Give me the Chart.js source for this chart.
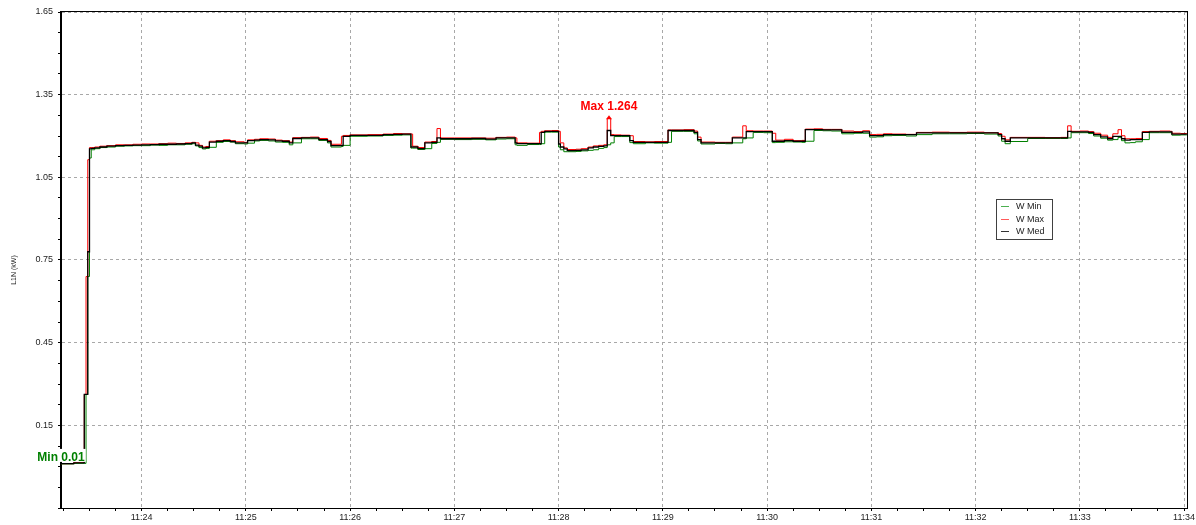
<!DOCTYPE html>
<html>
<head>
<meta charset="utf-8">
<script src="https://cdn.jsdelivr.net/npm/chart.js@4.4.1/dist/chart.umd.min.js"></script>
<style>
  html, body { margin: 0; padding: 0; background: #ffffff; }
  canvas { display: block; }
</style>
</head>
<body>
<canvas id="chart" width="1196" height="525"></canvas>
<script>
// Sample times (hh:mm:ss); each value holds from its time until the next one
const times = [
  '11:23:13','11:23:21','11:23:27','11:23:28','11:23:29','11:23:30','11:23:31','11:23:33','11:23:36','11:23:40',
  '11:23:45','11:23:50','11:23:55','11:24:00','11:24:05','11:24:10','11:24:15','11:24:20','11:24:25','11:24:29',
  '11:24:31','11:24:33','11:24:35','11:24:37','11:24:39','11:24:43','11:24:47','11:24:51','11:24:54','11:24:59',
  '11:25:01','11:25:05','11:25:08','11:25:13','11:25:17','11:25:21','11:25:25','11:25:27','11:25:32','11:25:37',
  '11:25:42','11:25:47','11:25:49','11:25:55','11:25:56','11:26:00','11:26:10','11:26:19','11:26:25','11:26:30',
  '11:26:35','11:26:36','11:26:39','11:26:43','11:26:47','11:26:50','11:26:52','11:27:00','11:27:10','11:27:18',
  '11:27:24','11:27:30','11:27:35','11:27:36','11:27:42','11:27:49','11:27:50','11:27:52','11:27:56','11:28:00',
  '11:28:01','11:28:03','11:28:05','11:28:10','11:28:13','11:28:17','11:28:20','11:28:23','11:28:26','11:28:28',
  '11:28:30','11:28:32','11:28:36','11:28:41','11:28:43','11:28:50','11:28:55','11:29:03','11:29:05','11:29:12',
  '11:29:18','11:29:20','11:29:22','11:29:30','11:29:36','11:29:40','11:29:46','11:29:48','11:29:52','11:29:58',
  '11:30:03','11:30:05','11:30:10','11:30:15','11:30:20','11:30:22','11:30:27','11:30:32','11:30:37','11:30:43',
  '11:30:50','11:30:55','11:30:59','11:31:03','11:31:07','11:31:12','11:31:20','11:31:26','11:31:35','11:31:45',
  '11:31:55','11:32:05','11:32:13','11:32:15','11:32:17','11:32:20','11:32:30','11:32:40','11:32:49','11:32:53',
  '11:32:55','11:33:00','11:33:05','11:33:08','11:33:12','11:33:16','11:33:19','11:33:22','11:33:24','11:33:26',
  '11:33:29','11:33:32','11:33:36','11:33:40','11:33:46','11:33:52','11:33:53','11:33:58','11:34:02'
];

// Power on L1N in kW
const wMin = [
  0.010,0.012,0.012,0.262,0.690,1.120,1.150,1.154,1.158,1.160,
  1.163,1.164,1.165,1.165,1.167,1.166,1.168,1.168,1.170,1.172,
  1.164,1.158,1.153,1.155,1.159,1.177,1.180,1.178,1.172,1.171,
  1.174,1.182,1.184,1.182,1.178,1.177,1.168,1.175,1.190,1.190,
  1.184,1.175,1.160,1.162,1.166,1.199,1.200,1.202,1.203,1.204,
  1.156,1.156,1.151,1.154,1.173,1.177,1.188,1.187,1.188,1.186,
  1.189,1.190,1.168,1.166,1.169,1.169,1.172,1.214,1.214,1.160,
  1.150,1.143,1.143,1.144,1.146,1.148,1.150,1.155,1.158,1.168,
  1.175,1.198,1.198,1.176,1.172,1.175,1.174,1.177,1.217,1.217,
  1.208,1.182,1.171,1.173,1.172,1.175,1.190,1.193,1.213,1.212,
  1.176,1.177,1.179,1.178,1.177,1.181,1.220,1.219,1.218,1.208,
  1.210,1.210,1.196,1.197,1.201,1.202,1.200,1.205,1.208,1.208,
  1.209,1.207,1.200,1.181,1.172,1.180,1.191,1.191,1.191,1.193,
  1.212,1.212,1.209,1.200,1.192,1.185,1.187,1.195,1.183,1.175,
  1.176,1.179,1.187,1.212,1.212,1.212,1.203,1.204,1.205
];

const wMax = [
  0.011,0.016,0.262,0.690,1.114,1.158,1.158,1.160,1.163,1.165,
  1.168,1.168,1.170,1.171,1.171,1.172,1.174,1.173,1.175,1.177,
  1.175,1.166,1.160,1.162,1.181,1.183,1.186,1.183,1.179,1.177,
  1.186,1.188,1.190,1.189,1.185,1.183,1.178,1.194,1.195,1.196,
  1.191,1.184,1.170,1.199,1.202,1.204,1.205,1.207,1.209,1.208,
  1.207,1.163,1.158,1.178,1.180,1.227,1.193,1.193,1.193,1.192,
  1.195,1.196,1.193,1.175,1.174,1.213,1.217,1.219,1.220,1.217,
  1.175,1.157,1.151,1.152,1.154,1.160,1.164,1.166,1.168,1.264,
  1.205,1.204,1.203,1.201,1.180,1.179,1.180,1.222,1.222,1.223,
  1.218,1.196,1.178,1.177,1.177,1.196,1.237,1.219,1.218,1.218,
  1.210,1.185,1.188,1.183,1.184,1.225,1.226,1.224,1.224,1.218,
  1.216,1.219,1.205,1.206,1.208,1.207,1.206,1.213,1.214,1.213,
  1.214,1.212,1.209,1.199,1.186,1.195,1.195,1.194,1.195,1.237,
  1.217,1.218,1.216,1.210,1.203,1.195,1.208,1.223,1.201,1.190,
  1.190,1.191,1.216,1.217,1.218,1.217,1.210,1.209,1.208
];

const wMed = [
  0.011,0.014,0.262,0.262,0.780,1.153,1.155,1.157,1.160,1.163,
  1.165,1.166,1.167,1.168,1.169,1.170,1.170,1.171,1.172,1.175,
  1.167,1.163,1.157,1.159,1.178,1.181,1.183,1.180,1.175,1.175,
  1.183,1.185,1.187,1.186,1.182,1.181,1.175,1.191,1.193,1.193,
  1.187,1.180,1.165,1.166,1.199,1.202,1.202,1.205,1.206,1.207,
  1.160,1.160,1.154,1.175,1.177,1.193,1.190,1.190,1.191,1.189,
  1.193,1.193,1.175,1.172,1.172,1.172,1.213,1.217,1.217,1.171,
  1.160,1.153,1.147,1.148,1.150,1.157,1.160,1.162,1.164,1.220,
  1.201,1.201,1.201,1.183,1.177,1.177,1.177,1.220,1.220,1.220,
  1.213,1.187,1.175,1.175,1.175,1.193,1.193,1.216,1.216,1.216,
  1.181,1.181,1.183,1.181,1.181,1.223,1.223,1.222,1.222,1.213,
  1.213,1.215,1.201,1.201,1.205,1.205,1.205,1.211,1.211,1.211,
  1.211,1.211,1.205,1.190,1.181,1.193,1.193,1.193,1.193,1.217,
  1.215,1.215,1.213,1.205,1.197,1.190,1.199,1.199,1.190,1.185,
  1.187,1.187,1.213,1.215,1.215,1.215,1.207,1.207,1.207
];

const seriesNames  = ['W Min', 'W Max', 'W Med'];
const seriesColors = ['#008000', '#ff0000', '#000000'];
const keyColors    = ['#4caf50', '#ff5a5a', '#333333'];
const yTitle = 'L1N (kW)';

// Axis extents and tick spacing
const xRange = ['11:23:13.6', '11:34:01.6'];
const xMinorStep = 15;   // seconds between small ticks
const xMajorStep = 60;   // labelled ticks every minute
const yRange = [-0.15, 1.65];
const yMinorStep = 0.075;
const yMajorEvery = 4;   // every 4th small tick (0.3 kW) is labelled

const FONT = '"Liberation Sans", Arial, sans-serif';
const GRID_GREY = '#a8a8a8';

function toSec(s) {
  const p = s.split(':');
  return (+p[0]) * 3600 + (+p[1]) * 60 + parseFloat(p[2]);
}
function hhmm(sec) {
  const t = Math.round(sec);
  const h = Math.floor(t / 3600);
  const m = Math.floor((t % 3600) / 60);
  return h + ':' + String(m).padStart(2, '0');
}
function yIndex(v) { return Math.round(v / yMinorStep); }
function isYMajor(v) { return (((yIndex(v) - 2) % yMajorEvery) + yMajorEvery) % yMajorEvery === 0; }
function fmtVal(v) { return String(Number(v.toFixed(3))); }

const secs = times.map(toSec);
const seriesValues = [wMin, wMax, wMed];

const datasets = seriesValues.map((vals, i) => ({
  label: seriesNames[i],
  data: secs.map((s, j) => ({ x: s, y: vals[j] })),
  borderColor: seriesColors[i],
  backgroundColor: seriesColors[i],
  borderWidth: i === 2 ? 1.3 : 1,
  stepped: true,
  pointRadius: 0,
  fill: false,
  order: [2, 1, 0][i]
}));

// Black frame around the plot area and the rotated axis title
const frame = {
  id: 'frame',
  afterDraw(chart) {
    const { ctx, chartArea: a } = chart;
    ctx.save();
    ctx.strokeStyle = '#000';
    ctx.lineWidth = 1;
    ctx.strokeRect(Math.round(a.left) - 0.5, Math.round(a.top) - 0.5,
                   Math.round(a.right - a.left) + 1, Math.round(a.bottom - a.top) + 1);
    ctx.translate(14, (a.top + a.bottom) / 2 + 10);
    ctx.rotate(-Math.PI / 2);
    ctx.font = '7px ' + FONT;
    ctx.fillStyle = '#222';
    ctx.textAlign = 'center';
    ctx.textBaseline = 'middle';
    ctx.fillText(yTitle, 0, 0);
    ctx.restore();
  }
};

// "Min" / "Max" call-outs on the extreme samples
const extremes = {
  id: 'extremes',
  afterDraw(chart) {
    const { ctx, scales: { x, y } } = chart;
    let iMin = 0, iMax = 0;
    wMin.forEach((v, i) => { if (v < wMin[iMin]) iMin = i; });
    wMax.forEach((v, i) => { if (v > wMax[iMax]) iMax = i; });
    ctx.save();
    ctx.font = 'bold 12px ' + FONT;
    ctx.textAlign = 'center';
    ctx.textBaseline = 'alphabetic';

    const minX = Math.max(x.getPixelForValue(secs[iMin]), x.left);
    const minY = y.getPixelForValue(wMin[iMin]);
    const minText = 'Min ' + fmtVal(wMin[iMin]);
    const tw = ctx.measureText(minText).width;
    ctx.fillStyle = '#ffffff';
    ctx.fillRect(minX - tw / 2 - 1, minY - 15, tw + 2, 13);
    ctx.fillStyle = seriesColors[0];
    ctx.fillText(minText, minX, minY - 3);

    const x0 = x.getPixelForValue(secs[iMax]);
    const x1 = x.getPixelForValue(secs[iMax + 1]);
    const maxX = (x0 + x1) / 2;
    const maxY = y.getPixelForValue(wMax[iMax]);
    ctx.fillStyle = seriesColors[1];
    ctx.fillText('Max ' + fmtVal(wMax[iMax]), maxX, maxY - 8);
    ctx.beginPath();
    ctx.moveTo(maxX, maxY - 3);
    ctx.lineTo(maxX - 3, maxY + 1);
    ctx.lineTo(maxX + 3, maxY + 1);
    ctx.closePath();
    ctx.fill();
    ctx.restore();
  }
};

// Boxed series key inside the plot
const seriesKey = {
  id: 'seriesKey',
  afterDraw(chart) {
    const { ctx, chartArea: a } = chart;
    const bx = Math.round(a.right) - 191, by = Math.round(a.top) + 187;
    const w = 56, h = 40;
    ctx.save();
    ctx.fillStyle = '#ffffff';
    ctx.fillRect(bx, by, w, h);
    ctx.strokeStyle = '#404040';
    ctx.lineWidth = 1;
    ctx.strokeRect(bx + 0.5, by + 0.5, w, h);
    ctx.font = '9px ' + FONT;
    ctx.textBaseline = 'middle';
    ctx.textAlign = 'left';
    chart.data.datasets.forEach((ds, i) => {
      const cy = Math.round(by + 7 + i * 12.5);
      ctx.fillStyle = keyColors[i];
      ctx.fillRect(bx + 5, cy, 8, 1);
      ctx.fillStyle = '#222';
      ctx.fillText(ds.label, bx + 20, cy + 0.5);
    });
    ctx.restore();
  }
};

Chart.defaults.font.family = FONT;

new Chart(document.getElementById('chart'), {
  type: 'line',
  data: { datasets },
  plugins: [frame, extremes, seriesKey],
  options: {
    responsive: false,
    animation: false,
    events: [],
    layout: { padding: { top: 12, right: 9, left: 0, bottom: 0 } },
    plugins: { legend: { display: false }, tooltip: { enabled: false } },
    scales: {
      x: {
        type: 'linear',
        bounds: 'data',
        min: toSec(xRange[0]),
        max: toSec(xRange[1]),
        afterBuildTicks(scale) {
          const ticks = [];
          for (let v = Math.ceil(scale.min / xMinorStep) * xMinorStep; v <= scale.max; v += xMinorStep) {
            ticks.push({ value: v });
          }
          scale.ticks = ticks;
        },
        afterFit(scale) { scale.height = 17; },
        ticks: {
          autoSkip: false,
          maxRotation: 0,
          padding: 1,
          color: '#222',
          font: { size: 9 },
          callback: v => (Math.round(v) % xMajorStep === 0 ? hhmm(v) : '')
        },
        grid: {
          color: c => (c.tick && Math.round(c.tick.value) % xMajorStep === 0 ? GRID_GREY : 'rgba(0,0,0,0)'),
          tickColor: '#000',
          tickLength: 3,
          lineWidth: 1
        },
        border: { display: true, color: '#000', dash: [3, 3] }
      },
      y: {
        type: 'linear',
        bounds: 'data',
        min: yRange[0],
        max: yRange[1],
        afterBuildTicks(scale) {
          const ticks = [];
          const k0 = Math.ceil(scale.min / yMinorStep - 1e-9);
          const k1 = Math.floor(scale.max / yMinorStep + 1e-9);
          for (let k = k0; k <= k1; k++) ticks.push({ value: +(k * yMinorStep).toFixed(4) });
          scale.ticks = ticks;
        },
        afterFit(scale) { scale.width = 61; },
        ticks: {
          autoSkip: false,
          padding: 5,
          color: '#222',
          font: { size: 9 },
          callback: v => (isYMajor(v) && v > 0 ? v.toFixed(2) : '')
        },
        grid: {
          color: c => (c.tick && isYMajor(c.tick.value) ? GRID_GREY : 'rgba(0,0,0,0)'),
          tickColor: '#000',
          tickLength: 3,
          lineWidth: 1
        },
        border: { display: true, color: '#000', dash: [3, 3] }
      }
    }
  }
});
</script>
</body>
</html>
